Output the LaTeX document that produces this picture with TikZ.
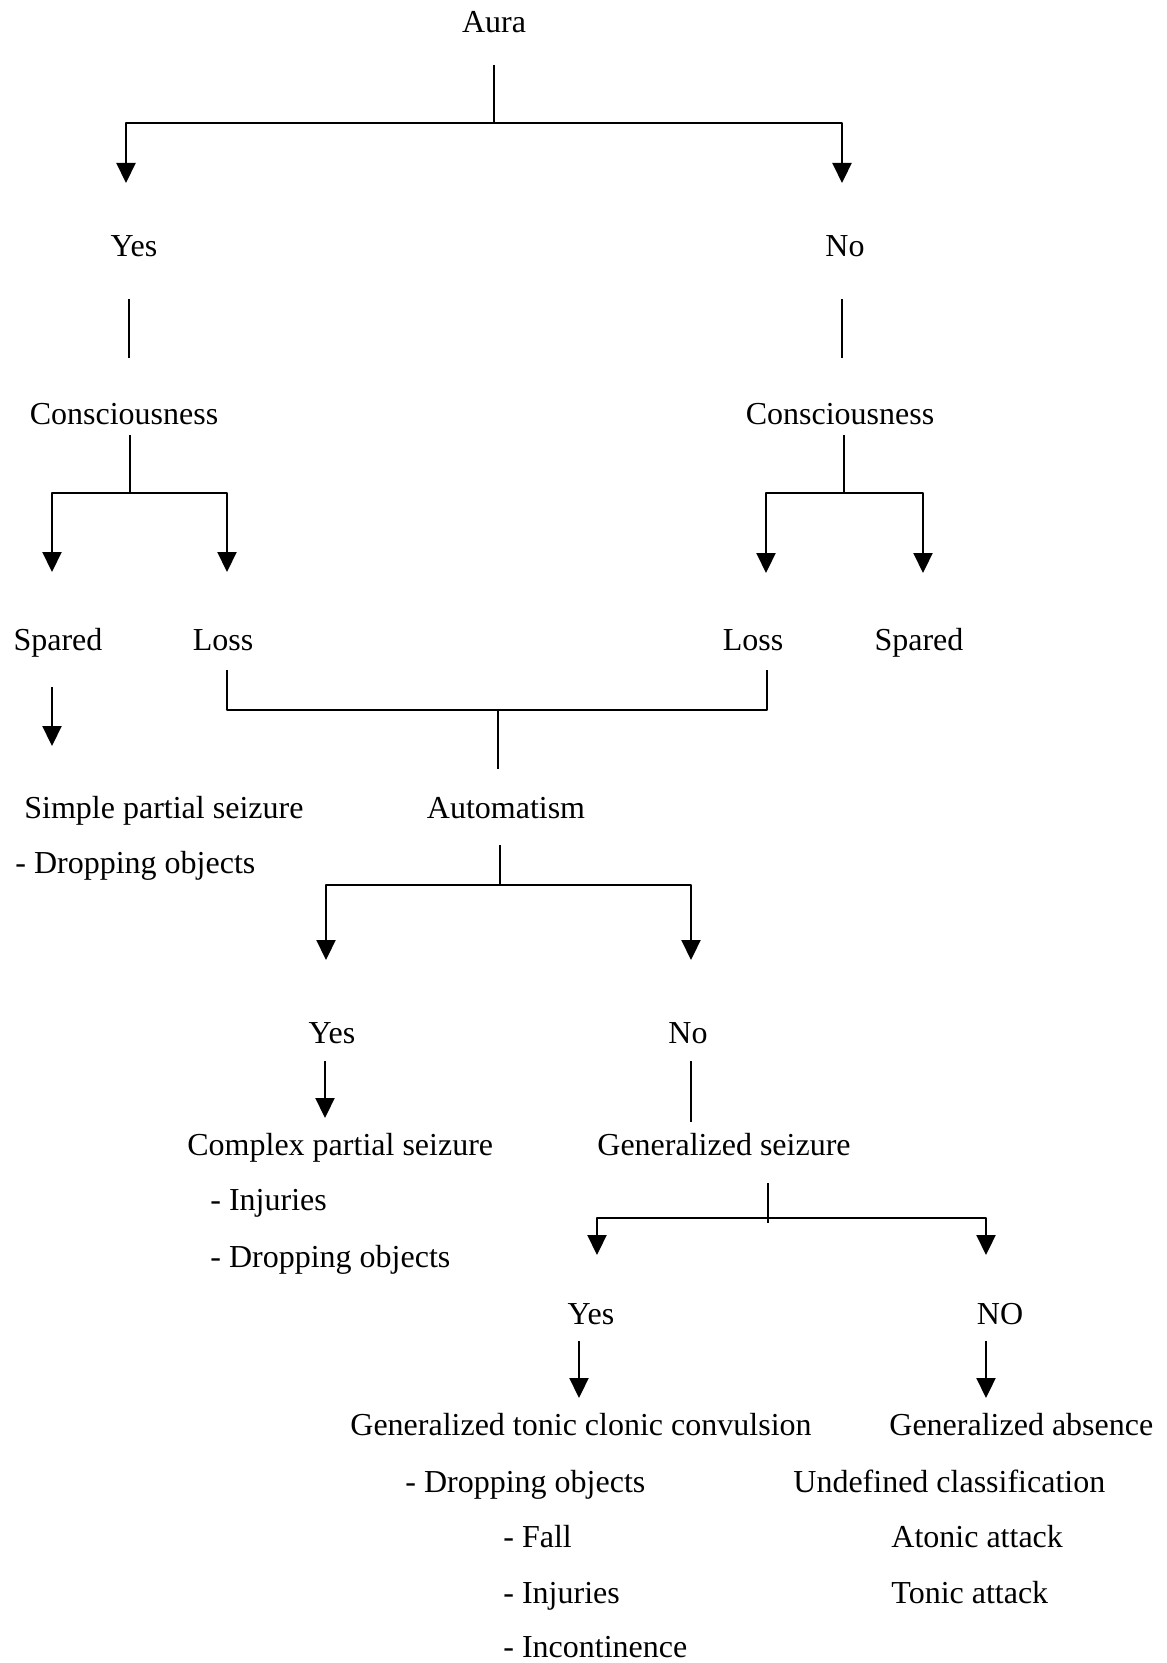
\documentclass[tikz,border=0pt]{standalone}
\usepackage{fontspec}
\setmainfont{Liberation Serif}
\usetikzlibrary{arrows.meta}
\begin{document}
\begin{tikzpicture}[x=.5pt, y=-.5pt, font=\fontsize{16}{19}\selectfont, line join=round, >={Triangle[width=9.5pt,length=10pt]},
  lbl/.style={inner sep=0pt, anchor=base},
  lft/.style={inner sep=0pt, anchor=base west},
  ln/.style={line width=1.1pt},
  arr/.style={line width=1.1pt, ->}]
\useasboundingbox (0,0) rectangle (1166,1663);
% texts
\node[lbl] (aura) at (494,33) {Aura};
\node[lbl] (yesA) at (134,257) {Yes};
\node[lbl] (noA) at (845,257) {No};
\node[lbl] (consL) at (124,425) {Consciousness};
\node[lbl] (consR) at (840,425) {Consciousness};
\node[lbl] (sparedL) at (58,650) {Spared};
\node[lbl] (lossL) at (223,650) {Loss};
\node[lbl] (lossR) at (753,650) {Loss};
\node[lbl] (sparedR) at (919,650) {Spared};
\node[lft] (simple) at (24,818) {Simple partial seizure};
\node[lft] (simpleA) at (15,873) {- Dropping objects};
\node[lbl] (autom) at (506,818) {Automatism};
\node[lbl] (yesB) at (332,1043) {Yes};
\node[lbl] (noB) at (688,1043) {No};
\node[lft] (complex) at (187,1155) {Complex partial seizure};
\node[lft] (complexA) at (210,1210) {- Injuries};
\node[lft] (complexB) at (210,1267) {- Dropping objects};
\node[lft] (general) at (597,1155) {Generalized seizure};
\node[lbl] (yesC) at (591,1324) {Yes};
\node[lbl] (noC) at (1000,1324) {NO};
\node[lft] (gtc) at (350,1435) {Generalized tonic clonic convulsion};
\node[lft] (gtcA) at (405,1492) {- Dropping objects};
\node[lft] (gtcB) at (503,1547) {- Fall};
\node[lft] (gtcC) at (503,1603) {- Injuries};
\node[lft] (gtcD) at (503,1657) {- Incontinence};
\node[lft] (absence) at (889,1435) {Generalized absence};
\node[lft] (undef) at (793,1492) {Undefined classification};
\node[lft] (atonic) at (891,1547) {Atonic attack};
\node[lft] (tonic) at (891,1603) {Tonic attack};
% joints and free ends
\coordinate (auraS) at (494,65);   \coordinate (auraJ) at (494,123);
\coordinate (yesAN) at (126,183);  \coordinate (noAN) at (842,183);
\coordinate (yesAS) at (129,299);  \coordinate (consLN) at (129,358);
\coordinate (noAS) at (842,299);   \coordinate (consRN) at (842,358);
\coordinate (consLS) at (130,435); \coordinate (consLJ) at (130,493);
\coordinate (sparedLN) at (52,572); \coordinate (lossLN) at (227,572);
\coordinate (consRS) at (844,435); \coordinate (consRJ) at (844,493);
\coordinate (lossRN) at (766,573); \coordinate (sparedRN) at (923,573);
\coordinate (lossLS) at (227,670); \coordinate (lossRS) at (767,670);
\coordinate (lossJ) at (498,710);  \coordinate (automN) at (498,769);
\coordinate (sparedLS) at (52,687); \coordinate (simpleN) at (52,746);
\coordinate (automS) at (500,845); \coordinate (automJ) at (500,885);
\coordinate (yesBN) at (326,960);  \coordinate (noBN) at (691,960);
\coordinate (yesBS) at (325,1061); \coordinate (complexN) at (325,1118);
\coordinate (noBS) at (691,1061);  \coordinate (generalN) at (691,1122);
\coordinate (generalS) at (768,1183); \coordinate (generalJ) at (768,1218);
\coordinate (yesCN) at (597,1255); \coordinate (noCN) at (986,1255);
\coordinate (yesCS) at (579,1341); \coordinate (gtcN) at (579,1398);
\coordinate (noCS) at (986,1341);  \coordinate (absenceN) at (986,1398);
% connectors
\draw[ln] (auraS)--(auraJ);
\draw[arr] (auraJ) -| (yesAN);
\draw[arr] (auraJ) -| (noAN);
\draw[ln] (yesAS)--(consLN);
\draw[ln] (noAS)--(consRN);
\draw[ln] (consLS)--(consLJ);
\draw[arr] (consLJ) -| (sparedLN);
\draw[arr] (consLJ) -| (lossLN);
\draw[ln] (consRS)--(consRJ);
\draw[arr] (consRJ) -| (lossRN);
\draw[arr] (consRJ) -| (sparedRN);
\draw[ln] (lossLS) |- (lossJ) -| (lossRS);
\draw[ln] (lossJ)--(automN);
\draw[arr] (sparedLS)--(simpleN);
\draw[ln] (automS)--(automJ);
\draw[arr] (automJ) -| (yesBN);
\draw[arr] (automJ) -| (noBN);
\draw[arr] (yesBS)--(complexN);
\draw[ln] (noBS)--(generalN);
\draw[ln] (generalS)--([yshift=-2.5pt]generalJ);
\draw[arr] (generalJ) -| (yesCN);
\draw[arr] (generalJ) -| (noCN);
\draw[arr] (yesCS)--(gtcN);
\draw[arr] (noCS)--(absenceN);
\end{tikzpicture}
\end{document}
